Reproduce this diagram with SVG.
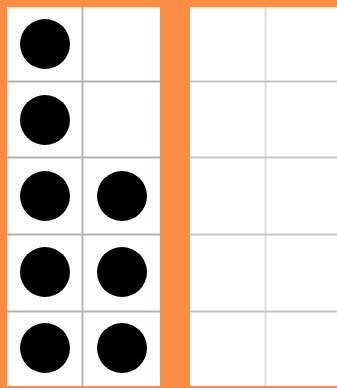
<svg xmlns="http://www.w3.org/2000/svg" width="337" height="388" viewBox="0 0 337 388">
<style>
.cell{fill:#ffffff}
.ln{stroke:#b4b4b4;stroke-width:2}
.ln2{stroke:#c4c4c4;stroke-width:2}
.vl2{stroke:#dedede;stroke-width:2}
.dot{fill:#000000}
</style>
<rect x="0" y="0" width="337" height="388" fill="#fa8c45"/>
<g id="frame-left">
<rect class="cell" x="7" y="7" width="153" height="379"/>
<line class="ln" x1="82.5" y1="7" x2="82.5" y2="386"/>
<line class="ln" x1="7" y1="81.5" x2="160" y2="81.5"/>
<line class="ln" x1="7" y1="157.5" x2="160" y2="157.5"/>
<line class="ln" x1="7" y1="234.5" x2="160" y2="234.5"/>
<line class="ln" x1="7" y1="311.5" x2="160" y2="311.5"/>
</g>
<g id="frame-right">
<rect class="cell" x="190" y="7" width="147" height="379"/>
<line class="vl2" x1="265.5" y1="7" x2="265.5" y2="386"/>
<line class="ln2" x1="190" y1="81.5" x2="337" y2="81.5"/>
<line class="ln2" x1="190" y1="157.5" x2="337" y2="157.5"/>
<line class="ln2" x1="190" y1="234.5" x2="337" y2="234.5"/>
<line class="ln2" x1="190" y1="311.5" x2="337" y2="311.5"/>
</g>
<g id="dots">
<circle class="dot" cx="45" cy="44" r="25"/>
<circle class="dot" cx="45" cy="120" r="25"/>
<circle class="dot" cx="45" cy="196" r="25"/>
<circle class="dot" cx="122" cy="196" r="25"/>
<circle class="dot" cx="45" cy="272" r="25"/>
<circle class="dot" cx="122" cy="272" r="25"/>
<circle class="dot" cx="45" cy="348" r="25"/>
<circle class="dot" cx="122" cy="348" r="25"/>
</g>
</svg>
